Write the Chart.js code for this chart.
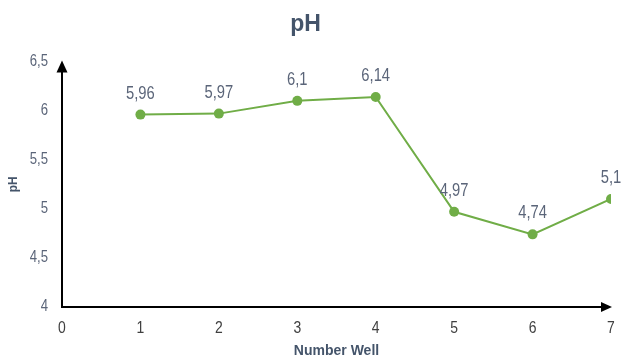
<!DOCTYPE html>
<html>
<head>
<meta charset="utf-8">
<script src="https://cdn.jsdelivr.net/npm/chart.js@4"></script>
<style>
	html, body { margin: 0; padding: 0; background: #fff; }
	#wrap { width: 621px; height: 360px; }
</style>
</head>
<body>
<div id="wrap"><canvas id="myChart"></canvas></div>
<script>
const wells = [1, 2, 3, 4, 5, 6, 7];
const phValues = [5.96, 5.97, 6.1, 6.14, 4.97, 4.74, 5.1];
const chartTitle = "pH";
const xTitle = "Number Well";
const yTitle = "pH";

const sans = "'Liberation Sans', Arial, sans-serif";
const lineColor = "#70AD47";
const slate = "#5B6579";
const squeeze = 0.82; // the original uses a narrow face, squash text to look like it

function fmt(v) {
	return String(Math.round(v * 100) / 100).replace(".", ",");
}

function narrowText(ctx, text, x, y, align) {
	ctx.save();
	ctx.translate(x, y);
	ctx.scale(squeeze, 1);
	ctx.textAlign = align;
	ctx.textBaseline = "middle";
	ctx.fillText(text, 0, 0);
	ctx.restore();
}

// black axes with arrow heads
const arrowAxes = {
	id: "arrowAxes",
	afterDraw(chart) {
		const { ctx, chartArea } = chart;
		const l = chartArea.left, b = chartArea.bottom;
		const t = chartArea.top, r = chartArea.right;
		ctx.save();
		ctx.strokeStyle = "#000";
		ctx.fillStyle = "#000";
		ctx.lineWidth = 2;
		ctx.beginPath();
		ctx.moveTo(l, b);
		ctx.lineTo(l, t + 8);
		ctx.moveTo(l - 1, b);
		ctx.lineTo(r - 6, b);
		ctx.stroke();
		ctx.beginPath();
		ctx.moveTo(l, t - 1);
		ctx.lineTo(l - 5.5, t + 11);
		ctx.lineTo(l + 5.5, t + 11);
		ctx.closePath();
		ctx.fill();
		ctx.beginPath();
		ctx.moveTo(r + 1, b);
		ctx.lineTo(r - 10, b - 5);
		ctx.lineTo(r - 10, b + 5);
		ctx.closePath();
		ctx.fill();
		ctx.restore();
	},
};

// tick labels and value labels in a narrow look
const narrowLabels = {
	id: "narrowLabels",
	afterDraw(chart) {
		const { ctx } = chart;
		const xs = chart.scales.x;
		const ys = chart.scales.y;
		ctx.save();
		ctx.font = "16px " + sans;
		ctx.fillStyle = slate;
		ys.ticks.forEach((tk) => {
			narrowText(ctx, fmt(tk.value), 48, ys.getPixelForValue(tk.value), "right");
		});
		ctx.font = "17px " + sans;
		ctx.fillStyle = "#404040";
		xs.ticks.forEach((tk) => {
			narrowText(ctx, fmt(tk.value), xs.getPixelForValue(tk.value), xs.top + 21, "center");
		});
		const meta = chart.getDatasetMeta(0);
		ctx.font = "18px " + sans;
		ctx.fillStyle = slate;
		meta.data.forEach((pt, i) => {
			narrowText(ctx, fmt(phValues[i]), pt.x, pt.y - 21, "center");
		});
		ctx.restore();
	},
};

const ctx = document.getElementById("myChart");
new Chart(ctx, {
	type: "line",
	data: {
		datasets: [
			{
				label: "pH",
				data: wells.map((w, i) => ({ x: w, y: phValues[i] })),
				borderColor: lineColor,
				backgroundColor: lineColor,
				borderWidth: 2,
				pointRadius: 5,
				pointHoverRadius: 5,
				pointBorderWidth: 0,
				tension: 0,
				fill: false,
			},
		],
	},
	plugins: [arrowAxes, narrowLabels],
	options: {
		responsive: true,
		maintainAspectRatio: false,
		animation: false,
		layout: {
			padding: { left: 0, right: 10, top: 0, bottom: 0 },
		},
		plugins: {
			legend: { display: false },
			tooltip: { enabled: false },
			title: {
				display: true,
				text: chartTitle,
				color: "#44546A",
				font: { family: sans, size: 23, weight: "bold" },
				padding: { top: 11, bottom: 23 },
			},
		},
		scales: {
			x: {
				type: "linear",
				min: 0,
				max: 7,
				afterFit(scale) {
					scale.height = 53;
				},
				grid: { display: false, drawTicks: false },
				border: { display: false },
				ticks: { stepSize: 1, display: false },
				title: {
					display: true,
					text: xTitle,
					color: "#44546A",
					font: { family: sans, size: 14, weight: "bold" },
					padding: { top: 0, bottom: 0 },
				},
			},
			y: {
				min: 4,
				max: 6.5,
				afterFit(scale) {
					scale.width = 62;
				},
				grid: { display: false, drawTicks: false },
				border: { display: false },
				ticks: { stepSize: 0.5, display: false },
				title: {
					display: true,
					text: yTitle,
					color: "#44546A",
					font: { family: sans, size: 12, weight: "bold" },
					padding: { top: 6, bottom: 0 },
				},
			},
		},
	},
});
</script>
</body>
</html>
